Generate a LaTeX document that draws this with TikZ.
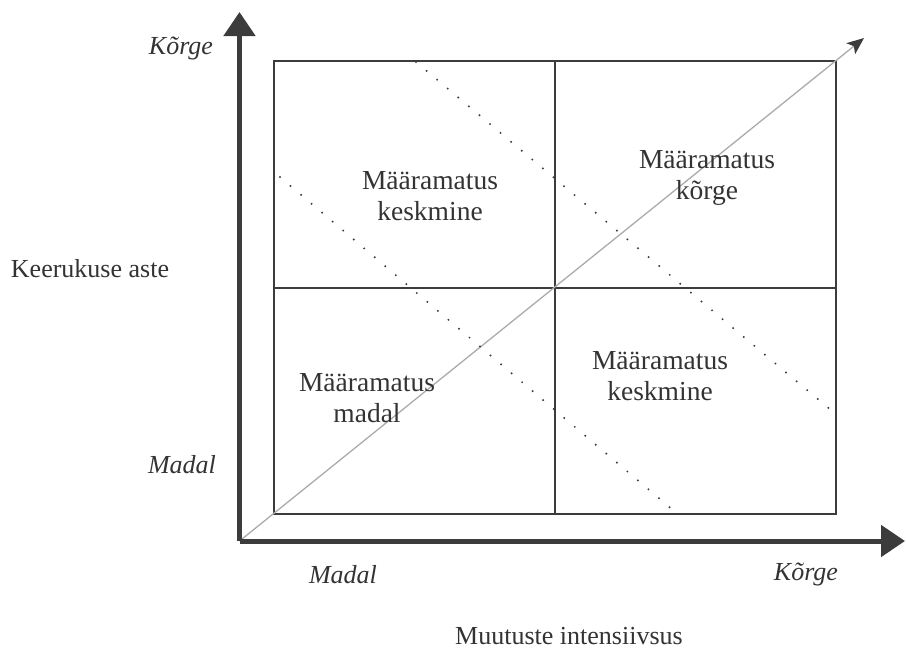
\documentclass[tikz,border=0pt]{standalone}
\usepackage{fontspec}
\setmainfont{Liberation Serif}
\usetikzlibrary{arrows.meta}
\definecolor{ink}{HTML}{3C3C3C}
\definecolor{diag}{HTML}{ABABAB}
\definecolor{txt}{HTML}{333333}
\tikzset{
  axisline/.style={draw=ink, line width=5pt, -{Triangle[length=24pt,width=31pt]}},
  boxline/.style={draw=ink, line width=2.6pt},
  diagline/.style={draw=diag, line width=1.3pt, -{Stealth[length=17pt,width=14pt,inset=4pt,color=ink]}},
  dotline/.style={draw=ink, line width=2.2pt, line cap=round, dash pattern=on 0pt off 13.8pt},
  lbl/.style={text=txt, font=\fontsize{26}{31}\selectfont, inner sep=0pt, align=center},
  ilbl/.style={lbl, font=\fontsize{26}{31}\selectfont\itshape},
  cell/.style={lbl, font=\fontsize{27.5}{31.5}\selectfont},
}
\begin{document}
\begin{tikzpicture}[x=1pt,y=-1pt]
\useasboundingbox (0,0) rectangle (906,649);
% coordinates
\coordinate (O) at (239.5,541);
\coordinate (Yt) at (239.5,12);
\coordinate (Xt) at (905,541);
\coordinate (BL) at (274,514);
\coordinate (TR) at (836,61);
\coordinate (MT) at (555,61);
\coordinate (MB) at (555,514);
\coordinate (ML) at (274,288);
\coordinate (MR) at (836,288);
\coordinate (Dt) at (864,38);
\coordinate (D1a) at (280,177);
\coordinate (D1b) at (674,511);
\coordinate (D2a) at (416,62);
\coordinate (D2b) at (832,411);
% box
\draw[boxline] (BL) rectangle (TR);
\draw[boxline] (MT) -- (MB);
\draw[boxline] (ML) -- (MR);
% diagonal
\draw[diagline] (O) -- (Dt);
% dotted lines
\draw[dotline] (D1a) -- (D1b);
\draw[dotline] (D2a) -- (D2b);
% axes
\draw[axisline] (O) -- (Yt);
\draw[axisline] (O) -- (Xt);
% labels
\node[ilbl] (ykorge) at (181,48) {Kõrge};
\node[lbl] (yname) at (90,269) {Keerukuse aste};
\node[ilbl] (ymadal) at (182,465) {Madal};
\node[ilbl] (xmadal) at (343,575) {Madal};
\node[ilbl] (xkorge) at (806,574) {Kõrge};
\node[lbl, anchor=base] (xname) at (569,644) {Muutuste intensiivsus};
\node[cell] (c1) at (430,196) {Määramatus\\keskmine};
\node[cell] (c2) at (707,178) {Määramatus\\kõrge};
\node[cell] (c3) at (367,398) {Määramatus\\madal};
\node[cell] (c4) at (660,376) {Määramatus\\keskmine};
\end{tikzpicture}
\end{document}
